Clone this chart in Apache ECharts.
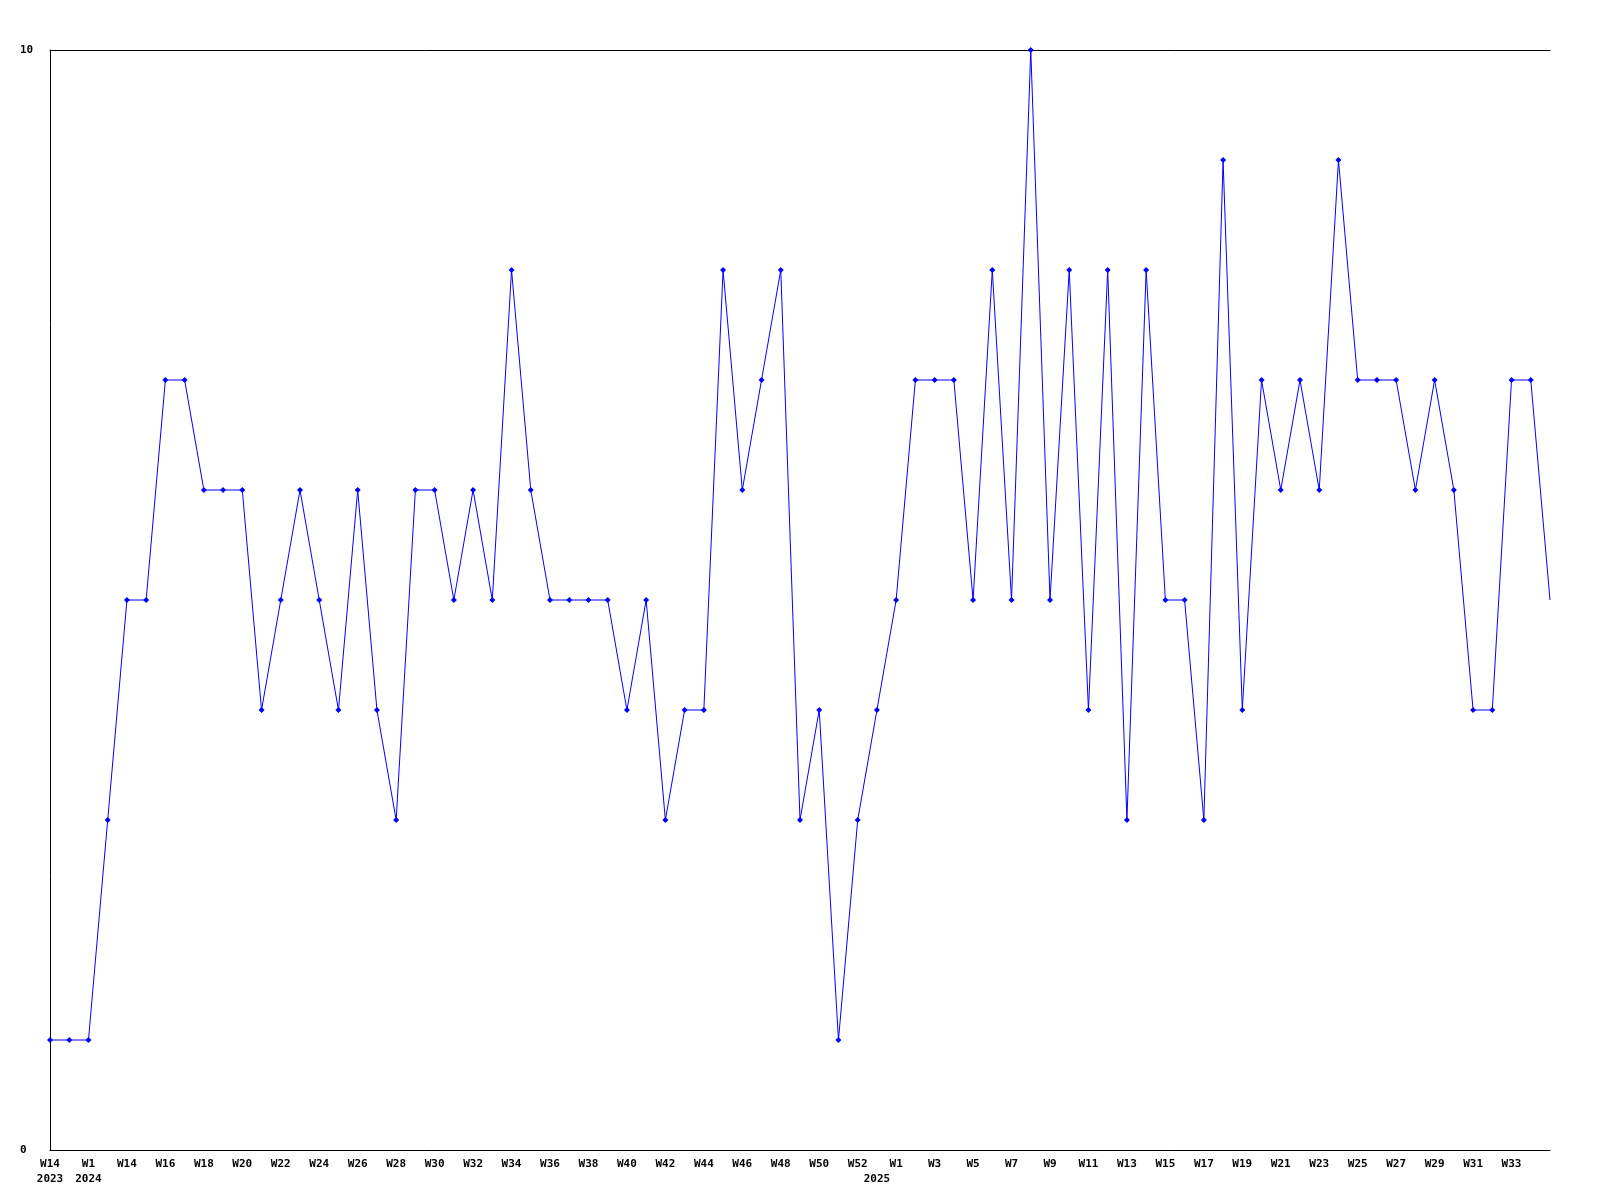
<!DOCTYPE html>
<html>
<head>
<meta charset="utf-8">
<script src="https://cdn.jsdelivr.net/npm/echarts@6/dist/echarts.min.js"></script>
<style>
html,body{margin:0;padding:0;background:#fff;}
#c{width:1600px;height:1200px;}
</style>
</head>
<body>
<div id="c"></div>
<script>
// Week categories (tick labels) — labels shown on every other category
const weeks = [
  "W14","W52","W1","W13",
  "W14","W15","W16","W17","W18","W19","W20","W21","W22","W23","W24","W25","W26","W27","W28","W29",
  "W30","W31","W32","W33","W34","W35","W36","W37","W38","W39","W40","W41","W42","W43","W44","W45",
  "W46","W47","W48","W49","W50","W51","W52","W53",
  "W1","W2","W3","W4","W5","W6","W7","W8","W9","W10","W11","W12","W13","W14","W15","W16","W17",
  "W18","W19","W20","W21","W22","W23","W24","W25","W26","W27","W28","W29","W30","W31","W32","W33",
  "W34","W35"
];
// Year labels and the category index they sit under
const yearIdx = [0, 2, 43];
const yearText = ["2023", "2024", "2025"];

// Series values
const values = [
  1,1,1,3,5,5,7,7,6,6,
  6,4,5,6,5,4,6,4,3,6,
  6,5,6,5,8,6,5,5,5,5,
  4,5,3,4,4,8,6,7,8,3,
  4,1,3,4,5,7,7,7,5,8,
  5,10,5,8,4,8,3,8,5,5,
  3,9,4,7,6,7,6,9,7,7,
  7,6,7,6,4,4,7,7,5
];

// Y axis range
const yMin = 0, yMax = 10;

const FONT = "'DejaVu Sans Mono', monospace";
const lastIdx = weeks.length - 1;
const chart = echarts.init(document.getElementById('c'), null, {renderer: 'canvas'});
chart.setOption({
  animation: false,
  backgroundColor: '#ffffff',
  grid: {left: 50, right: 50, top: 50, bottom: 50, containLabel: false},
  xAxis: [
    {
      type: 'category', data: weeks, boundaryGap: false, position: 'bottom',
      axisLine: {show: true, lineStyle: {color: '#000', width: 1}},
      axisTick: {show: false},
      splitLine: {show: false},
      axisLabel: {
        interval: function (i) { return i % 2 === 0 && i < lastIdx; },
        margin: 9, color: '#000', fontFamily: FONT, fontWeight: 'bold', fontSize: 11
      }
    },
    {
      type: 'category', data: weeks, boundaryGap: false, position: 'bottom',
      axisLine: {show: false}, axisTick: {show: false}, splitLine: {show: false},
      axisLabel: {
        interval: function (i) { return yearIdx.indexOf(i) >= 0; },
        formatter: function (v, i) { const k = yearIdx.indexOf(i); return k >= 0 ? yearText[k] : ''; },
        margin: 24, color: '#000', fontFamily: FONT, fontWeight: 'bold', fontSize: 11
      }
    },
    {
      type: 'category', data: weeks, boundaryGap: false, position: 'top',
      axisLine: {show: true, lineStyle: {color: '#000', width: 1}},
      axisTick: {show: false}, axisLabel: {show: false}, splitLine: {show: false}
    }
  ],
  yAxis: {
    type: 'value', min: yMin, max: yMax, interval: 10,
    axisLine: {show: true, lineStyle: {color: '#000', width: 1}},
    axisTick: {show: false},
    splitLine: {show: false},
    axisLabel: {align: 'left', margin: 30, color: '#000', fontFamily: FONT, fontWeight: 'bold', fontSize: 11}
  },
  series: [{
    type: 'line', data: values, xAxisIndex: 0,
    symbol: function (v, p) { return p.dataIndex === lastIdx ? 'none' : 'diamond'; },
    symbolSize: 6, showAllSymbol: true,
    lineStyle: {color: '#0000ff', width: 1},
    itemStyle: {color: '#0000ff'}
  }]
});
</script>
</body>
</html>
